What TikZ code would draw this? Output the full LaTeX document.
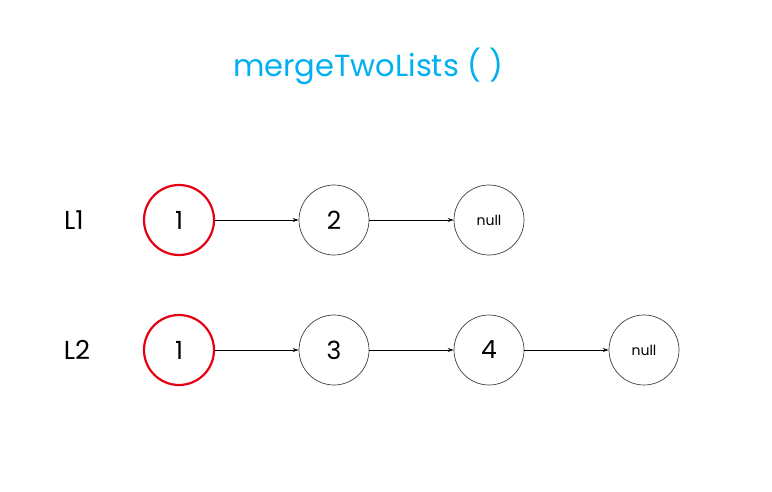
\documentclass[tikz,border=0pt]{standalone}
\usepackage{fontspec}
\setmainfont{Poppins}
\usetikzlibrary{arrows.meta}
\definecolor{titleblue}{RGB}{0,176,240}
\definecolor{headred}{RGB}{230,0,18}
\tikzset{
  x=1pt,y=-1pt,
  headnode/.style={circle,draw=headred,line width=2.2pt,minimum size=70pt,inner sep=0pt,font=\fontsize{25}{28}\selectfont},
  listnode/.style={circle,draw=black!75,line width=0.7pt,minimum size=70pt,inner sep=0pt,font=\fontsize{25}{28}\selectfont},
  nullnode/.style={circle,draw=black!75,line width=0.7pt,minimum size=70pt,inner sep=0pt,font=\fontsize{14}{16}\selectfont},
  link/.style={-{Stealth[length=6pt,width=4pt]},line width=0.8pt},
  lbl/.style={font=\fontsize{26}{30}\selectfont}
}
\begin{document}
\begin{tikzpicture}
\useasboundingbox[fill=white] (0,0) rectangle (772,491);
\node[font=\fontsize{30.5}{34}\selectfont,text=titleblue] (title) at (368,66) {mergeTwoLists ( )};
\node[lbl] (l1) at (74,220) {L1};
\node[lbl] (l2) at (77,350) {L2};
\node[headnode] (a1) at (179,220) {1};
\node[listnode] (a2) at (334,220) {2};
\node[nullnode] (a3) at (489,220) {null};
\node[headnode] (b1) at (179,350) {1};
\node[listnode] (b2) at (334,350) {3};
\node[listnode] (b3) at (489,350) {4};
\node[nullnode] (b4) at (644,350) {null};
\draw[link] (a1) -- (a2);
\draw[link] (a2) -- (a3);
\draw[link] (b1) -- (b2);
\draw[link] (b2) -- (b3);
\draw[link] (b3) -- (b4);
\end{tikzpicture}
\end{document}
